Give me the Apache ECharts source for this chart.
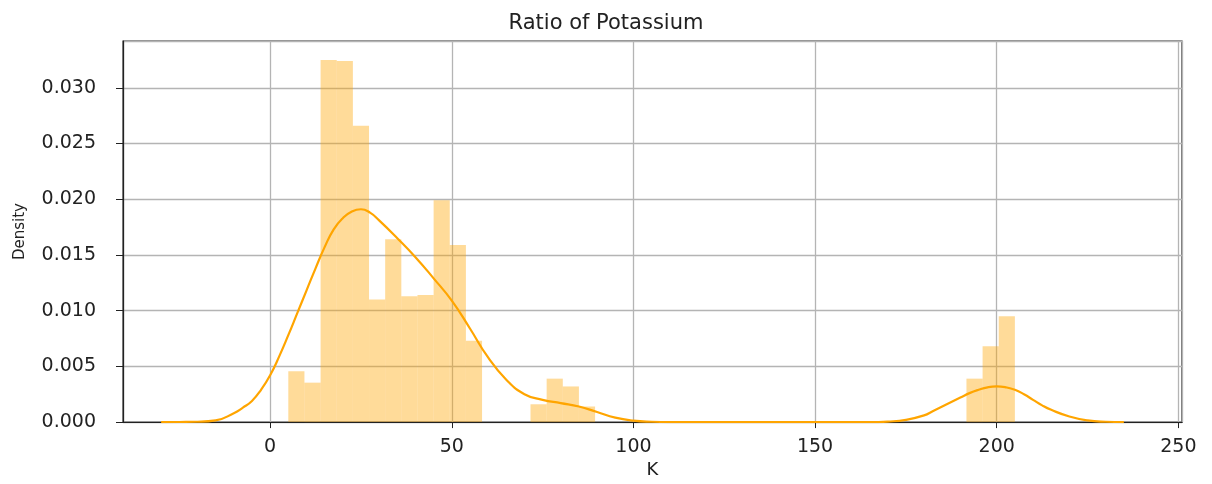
<!DOCTYPE html>
<html>
<head>
<meta charset="utf-8">
<script src="https://cdn.jsdelivr.net/npm/echarts@6/dist/echarts.min.js"></script>
<style>
  html, body { margin: 0; padding: 0; background: #fff; }
  #chart { width: 1212px; height: 484px; }
</style>
</head>
<body>
<div id="chart"></div>
<script>
// histogram: 45 bins from 5 to 205 (density)
var binStart = 5;
var binEnd = 205;
var binHeights = [
    0.00457, 0.00354, 0.0325, 0.0324, 0.0266, 0.0110, 0.0164, 0.0113, 0.0114, 0.0199,
    0.0159, 0.0073, 0, 0, 0, 0.0016, 0.0039, 0.0032, 0.0014, 0,
    0, 0, 0, 0, 0, 0, 0, 0, 0, 0,
    0, 0, 0, 0, 0, 0, 0, 0, 0, 0,
    0, 0, 0.0039, 0.0068, 0.0095
];

// kde curve
var kdeK = [
    -30, -25, -20, -15, -10, -7.5, -5, -2.5, 0, 2.5, 5, 7.5, 10, 12.5, 15, 17.5, 20, 22.5,
    25, 27.5, 30, 35, 40, 45, 50, 55, 60, 65, 70, 75, 80, 85, 90, 95, 100, 105, 110,
    165, 170, 175, 180, 182.5, 185, 187.5, 190, 192.5, 195, 197.5, 200, 202.5, 205,
    207.5, 210, 212.5, 215, 220, 225, 230, 235
];
var kdeDensity = [
    0, 0.00001, 0.00003, 0.00015, 0.0008, 0.0013, 0.0019, 0.0029, 0.0042, 0.0059,
    0.0078, 0.0098, 0.0118, 0.0138, 0.0157, 0.0173, 0.0183, 0.0189,
    0.0191, 0.0188, 0.0181, 0.0165, 0.0148, 0.0129, 0.0109, 0.0084, 0.0058, 0.0038,
    0.0025, 0.0020, 0.0017, 0.0014, 0.0009, 0.0004, 0.00013, 0.00003, 0,
    0, 0.00005, 0.0002, 0.0006, 0.0010, 0.0014, 0.0018, 0.0022, 0.0026, 0.0029,
    0.00312, 0.0032, 0.00312, 0.0029, 0.0025, 0.0020, 0.0015, 0.0011,
    0.0005, 0.00015, 0.00003, 0
];

var xTicks = [0, 50, 100, 150, 200, 250];
var yTicks = [0, 0.005, 0.010, 0.015, 0.020, 0.025, 0.030];

var binWidth = (binEnd - binStart) / binHeights.length;
var histData = [];
binHeights.forEach(function (h, i) {
    if (h > 0) {
        histData.push([binStart + i * binWidth, binStart + (i + 1) * binWidth, h]);
    }
});
var kdeData = kdeK.map(function (k, i) { return [k, kdeDensity[i]]; });

function tickLabel(list, v, digits) {
    var t = list.find(function (a) { return Math.abs(a - v) < 1e-9; });
    return t === undefined ? '' : t.toFixed(digits);
}

var chart = echarts.init(document.getElementById('chart'));
var font = 'DejaVu Sans';
chart.setOption({
    animation: false,
    title: {
        text: 'Ratio of Potassium',
        left: 'center',
        top: 8,
        textStyle: { fontFamily: font, fontSize: 21, fontWeight: 'normal', color: '#222' }
    },
    grid: {
        left: 123,
        right: 30,
        top: 41,
        bottom: 57,
        show: true,
        borderColor: '#222',
        borderWidth: 1.2
    },
    xAxis: {
        type: 'value',
        min: -40.5,
        max: 251,
        splitNumber: 5,
        name: 'K',
        nameLocation: 'middle',
        nameGap: 34,
        nameTextStyle: { fontFamily: font, fontSize: 18, color: '#222' },
        axisLine: { show: true, onZero: false, lineStyle: { color: '#222', width: 1.2 } },
        axisTick: { show: true, length: 6, lineStyle: { color: '#222' } },
        axisLabel: {
            fontFamily: font, fontSize: 19, color: '#222', margin: 15,
            showMinLabel: false, showMaxLabel: false,
            formatter: function (v) { return tickLabel(xTicks, v, 0); }
        },
        splitLine: { show: true, lineStyle: { color: '#b4b4b4', width: 1.3 } }
    },
    yAxis: {
        type: 'value',
        min: 0,
        max: 0.0342,
        interval: 0.005,
        name: 'Density',
        nameLocation: 'middle',
        nameGap: 95,
        nameTextStyle: { fontFamily: font, fontSize: 15, color: '#222' },
        axisLine: { show: true, onZero: false, lineStyle: { color: '#222', width: 1.2 } },
        axisTick: { show: true, length: 7, lineStyle: { color: '#222' } },
        axisLabel: {
            fontFamily: font, fontSize: 19, color: '#222', margin: 27,
            showMaxLabel: false,
            formatter: function (v) { return tickLabel(yTicks, v, 3); }
        },
        splitLine: { show: true, lineStyle: { color: '#b4b4b4', width: 1.3 } }
    },
    series: [{
        type: 'custom',
        data: histData,
        encode: { x: [0, 1], y: 2 },
        renderItem: function (params, api) {
            var p0 = api.coord([api.value(0), api.value(2)]);
            var p1 = api.coord([api.value(1), 0]);
            return {
                type: 'rect',
                shape: { x: p0[0], y: p0[1], width: p1[0] - p0[0], height: p1[1] - p0[1] },
                style: { fill: 'rgba(255,165,0,0.4)' }
            };
        }
    }, {
        type: 'line',
        data: kdeData,
        showSymbol: false,
        smooth: 0.5,
        lineStyle: { color: '#FFA500', width: 2.2 },
        z: 3
    }]
});
</script>
</body>
</html>
